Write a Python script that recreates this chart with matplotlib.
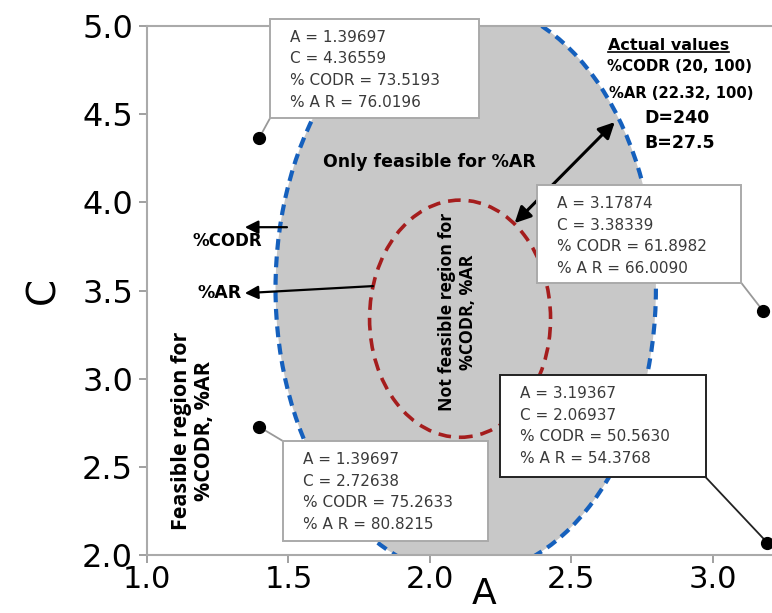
import matplotlib
matplotlib.use("Agg")
import matplotlib.pyplot as plt
import numpy as np
from matplotlib.patches import Ellipse, Rectangle

# ---- data -------------------------------------------------------------
# optimum / corner points (A, C) with predicted responses
point_A = [1.39697, 3.17874, 1.39697, 3.19367]
point_C = [4.36559, 3.38339, 2.72638, 2.06937]
point_codr = [73.5193, 61.8982, 75.2633, 50.5630]
point_ar = [76.0196, 66.0090, 80.8215, 54.3768]

# contour boundaries approximated as ellipses: (center A, center C, width, height)
ar_limit = (2.127, 3.51, 1.345, 3.25)      # %AR lower-limit contour
codr_limit = (2.107, 3.34, 0.640, 1.345)   # %CODR / %AR infeasible core

x_ticks = [1.0, 1.5, 2.0, 2.5, 3.0]
y_ticks = [2.0, 2.5, 3.0, 3.5, 4.0, 4.5, 5.0]

# annotation box layout (left, bottom, right, top) in data units, border colour,
# and which box corner the leader line leaves from
box_layout = [
    ((1.435, 4.477, 2.173, 5.040), "#aaaaaa", (0, 0)),
    ((2.378, 3.542, 3.102, 4.098), "#aaaaaa", (1, 0)),
    ((1.481, 2.079, 2.205, 2.646), "#aaaaaa", (0, 1)),
    ((2.247, 2.442, 2.975, 3.020), "#222222", (1, 0)),
]

BOX_FONT = "DejaVu Sans"
NARROW_FONT = "Open Sans"
WIDE_FONT = "DejaVu Sans"

fig = plt.figure(figsize=(7.72, 6.13), dpi=100)
ax = fig.add_axes([0.1904, 0.0946, 0.8096, 0.8630])
ax.set_xlim(1.0, 3.21)
ax.set_ylim(2.0, 5.0)

# shaded region bounded by the %AR contour
cx, cy, w, h = ar_limit
ax.add_patch(Ellipse((cx, cy), w, h, facecolor="#c8c8c8", edgecolor="none", zorder=1))
ax.add_patch(Ellipse((cx, cy), w, h, facecolor="none", edgecolor="#1560bd",
                     lw=3.0, linestyle=(0, (2.6, 1.6)), zorder=2))
cx, cy, w, h = codr_limit
ax.add_patch(Ellipse((cx, cy), w, h, facecolor="none", edgecolor="#a51d1d",
                     lw=2.6, linestyle=(0, (3.5, 2.2)), zorder=2))

# points
ax.plot(point_A, point_C, "o", color="black", ms=8.5, zorder=6, clip_on=False)

# annotation boxes with leader lines
for i, ((l, b, r, t), ec, corner) in enumerate(box_layout):
    ax.add_patch(Rectangle((l, b), r - l, t - b, facecolor="white", edgecolor=ec,
                           lw=1.4, zorder=5, clip_on=False))
    txt = (f"A = {point_A[i]:.5f}\nC = {point_C[i]:.5f}\n"
           f"% CODR = {point_codr[i]:.4f}\n% A R = {point_ar[i]:.4f}")
    ax.text(l + 0.072, t - 0.062, txt, ha="left", va="top", fontsize=11,
            family=BOX_FONT, color="#3a3a3a", linespacing=1.55, zorder=6,
            clip_on=False)
    cxr = l if corner[0] == 0 else r
    cyr = b if corner[1] == 0 else t
    ax.plot([cxr, point_A[i]], [cyr, point_C[i]],
            color="#999999" if ec == "#aaaaaa" else ec,
            lw=1.3, zorder=4, clip_on=False)

# region labels
ax.text(2.0, 4.228, "Only feasible for %AR", ha="center", va="center",
        fontsize=12.5, fontweight="bold", family=WIDE_FONT, zorder=3)
ax.text(2.099, 3.378, "Not feasible region for\n%CODR, %AR", ha="center", va="center",
        rotation=90, fontsize=12.8, fontweight="bold", family=NARROW_FONT,
        linespacing=1.2, zorder=3)
ax.text(1.162, 2.703, "Feasible region for\n%CODR, %AR", ha="center", va="center",
        rotation=90, fontsize=15.5, fontweight="bold", family=NARROW_FONT,
        linespacing=1.12, zorder=3)

# direction arrows
ax.annotate("", xy=(1.346, 3.859), xytext=(1.495, 3.859),
            arrowprops=dict(arrowstyle="-|>", color="black", lw=1.6,
                            mutation_scale=20, shrinkA=0, shrinkB=0), zorder=4)
ax.text(1.284, 3.78, "%CODR", ha="center", va="center", fontsize=12,
        fontweight="bold", family=WIDE_FONT, zorder=4)
ax.annotate("", xy=(1.346, 3.485), xytext=(1.799, 3.525),
            arrowprops=dict(arrowstyle="-|>", color="black", lw=1.6,
                            mutation_scale=20, shrinkA=0, shrinkB=0), zorder=4)
ax.text(1.335, 3.485, "%AR", ha="right", va="center", fontsize=12.5,
        fontweight="bold", family=WIDE_FONT, zorder=4)
ax.annotate("", xy=(2.654, 4.455), xytext=(2.300, 3.882),
            arrowprops=dict(arrowstyle="<|-|>", color="black", lw=2.2,
                            mutation_scale=24, shrinkA=0, shrinkB=0), zorder=4)

# actual-value legend
t_head = ax.text(2.845, 4.89, "Actual values", ha="center", va="center",
                 fontsize=11.5, fontweight="bold", family=WIDE_FONT, zorder=4)
ax.text(2.883, 4.772, "%CODR (20, 100)", ha="center", va="center",
        fontsize=10.8, fontweight="bold", family=WIDE_FONT, zorder=4)
ax.text(2.890, 4.619, "%AR (22.32, 100)", ha="center", va="center",
        fontsize=10.6, fontweight="bold", family=WIDE_FONT, zorder=4)
ax.text(2.76, 4.477, "D=240", ha="left", va="center",
        fontsize=12.5, fontweight="bold", family=WIDE_FONT, zorder=4)
ax.text(2.76, 4.336, "B=27.5", ha="left", va="center",
        fontsize=12.5, fontweight="bold", family=WIDE_FONT, zorder=4)

fig.canvas.draw()
bb = t_head.get_window_extent().transformed(ax.transData.inverted())
ax.plot([bb.x0, bb.x1], [bb.y0 + 0.003, bb.y0 + 0.003], color="black", lw=1.2, zorder=4)

# axes styling
ax.set_xticks(x_ticks)
ax.set_yticks(y_ticks)
ax.set_xticklabels([f"{v:.1f}" for v in x_ticks])
ax.set_yticklabels([f"{v:.1f}" for v in y_ticks])
ax.tick_params(axis="x", labelsize=22, color="#999999", length=6, width=1.3, pad=1)
ax.tick_params(axis="y", labelsize=23, color="#999999", length=6, width=1.3, pad=4)
for side in ("left", "bottom", "top"):
    ax.spines[side].set_color("#aaaaaa")
    ax.spines[side].set_linewidth(1.5)
ax.spines["right"].set_visible(False)
ax.set_xlabel("A", fontsize=26, va="bottom")
ax.xaxis.set_label_coords(0.539, -0.1065)
ax.set_ylabel("C", fontsize=28, labelpad=14)

fig.savefig("out.png", dpi=100)
